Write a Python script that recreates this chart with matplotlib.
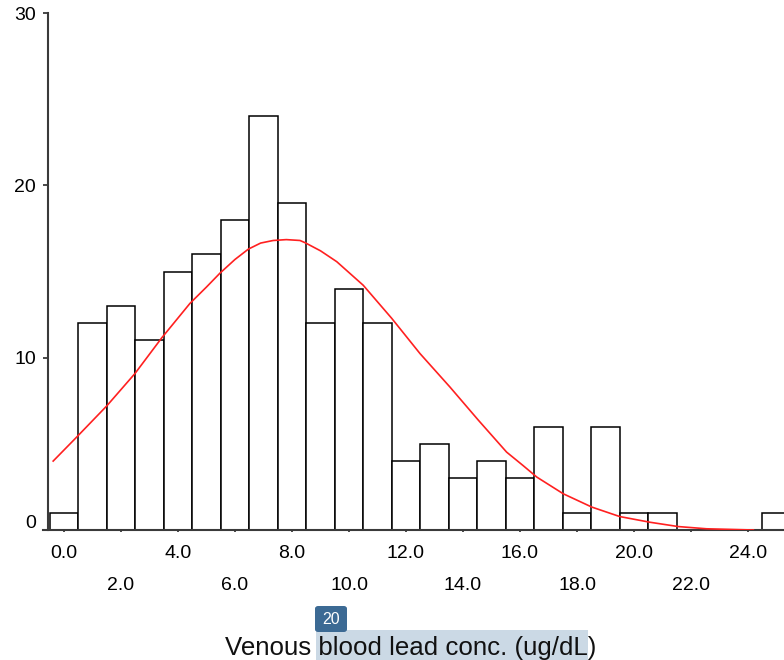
import matplotlib
matplotlib.use("Agg")
import matplotlib.pyplot as plt
import matplotlib.transforms as mtransforms
from matplotlib.patches import Rectangle, FancyBboxPatch

plt.rcParams['font.family'] = ['Liberation Sans', 'DejaVu Sans']

# Histogram: bin centres (ug/dL) and counts
bin_centers = list(range(0, 26))
counts = [1, 12, 13, 11, 15, 16, 18, 24, 19, 12, 14, 12, 4, 5, 3, 4, 3, 6, 1, 6, 1, 1, 0, 0, 0, 1]

# Fitted curve
curve_x = [-0.38, 0.45, 1.5, 2.49, 3.43, 4.42, 5.0, 5.47, 6.0, 6.47, 6.9, 7.34, 7.8, 8.28, 8.46, 9.0,
           9.57, 10.5, 11.5, 12.49, 13.54, 14.54, 15.53, 16.1, 16.59, 17.52, 18.52, 19.5, 20.56,
           21.55, 22.55, 24.19]
curve_y = [4.0, 5.4, 7.2, 9.08, 11.15, 13.15, 14.1, 14.9, 15.7, 16.3, 16.65, 16.8, 16.85, 16.8, 16.67,
           16.2, 15.57, 14.2, 12.28, 10.24, 8.3, 6.37, 4.52, 3.75, 3.07, 2.1, 1.33, 0.78, 0.45,
           0.2, 0.07, 0.0]

row1_ticks = [0, 4, 8, 12, 16, 20, 24]
row2_ticks = [2, 6, 10, 14, 18, 22]
y_ticks = [0, 10, 20, 30]
xlabel = "Venous blood lead conc. (ug/dL)"

W, H = 784, 660
fig = plt.figure(figsize=(W / 100, H / 100), dpi=100)

# axes geometry in pixels
ax_left_px, ax_right_px = 43, 784
ax_top_px, ax_bot_px = 13, 530
ax = fig.add_axes([ax_left_px / W, 1 - ax_bot_px / H,
                   (ax_right_px - ax_left_px) / W, (ax_bot_px - ax_top_px) / H])

px_per_unit = 28.5
x0_px = 64
ax.set_xlim((ax_left_px - x0_px) / px_per_unit, (ax_right_px - x0_px) / px_per_unit)
ax.set_ylim(0, 30)

ax.bar(bin_centers, counts, width=1.0, color='white', edgecolor='black', linewidth=1.1, zorder=2)
ax.plot(curve_x, curve_y, color='#ff2020', linewidth=1.2, zorder=3)

spine_c = '#3a3a3a'
for s in ['top', 'right']:
    ax.spines[s].set_visible(False)
ax.spines['left'].set_position(('data', (48 - x0_px) / px_per_unit))
ax.spines['left'].set_color(spine_c)
ax.spines['bottom'].set_color(spine_c)
ax.spines['left'].set_linewidth(1.5)
ax.spines['bottom'].set_linewidth(1.5)

ax.set_yticks(y_ticks)
ax.set_yticklabels([str(v) for v in y_ticks])
ax.tick_params(axis='y', length=3.5, width=1.3, color=spine_c, pad=5, labelsize=14)

ax.set_xticks(row1_ticks)
ax.set_xticklabels([f"{v:.1f}" for v in row1_ticks])
ax.set_xticks(row2_ticks, minor=True)
ax.set_xticklabels([f"{v:.1f}" for v in row2_ticks], minor=True)
ax.tick_params(axis='x', which='major', length=1.5, width=1.3, color=spine_c, pad=9, labelsize=14)
ax.tick_params(axis='x', which='minor', length=1.5, width=1.3, color=spine_c, pad=32, labelsize=14)

# raise the "0" y label slightly as in the reference
t0 = ax.yaxis.get_major_ticks()[0].label1
t0.set_transform(t0.get_transform() + mtransforms.ScaledTranslation(0, 8 / 100, fig.dpi_scale_trans))

# x label with highlight and badge
fig.text(411 / W, 1 - 655 / H, xlabel, ha='center', va='baseline', fontsize=18.6, color='#111111', zorder=5)
fig.patches.append(Rectangle((316 / W, 0), (588 - 316) / W, (660 - 630) / H,
                             transform=fig.transFigure, facecolor='#cbd9e5', edgecolor='none', zorder=1))
fig.patches.append(FancyBboxPatch((315 / W, 1 - 632 / H), (347 - 315) / W, (632 - 606) / H,
                                  boxstyle='round,pad=0,rounding_size=0.004',
                                  transform=fig.transFigure, facecolor='#3c6a94', edgecolor='none', zorder=1))
fig.text(331 / W, 1 - 619 / H, "20", ha='center', va='center', fontsize=11.5, color='white', zorder=6)

fig.savefig("out.png", dpi=100)
